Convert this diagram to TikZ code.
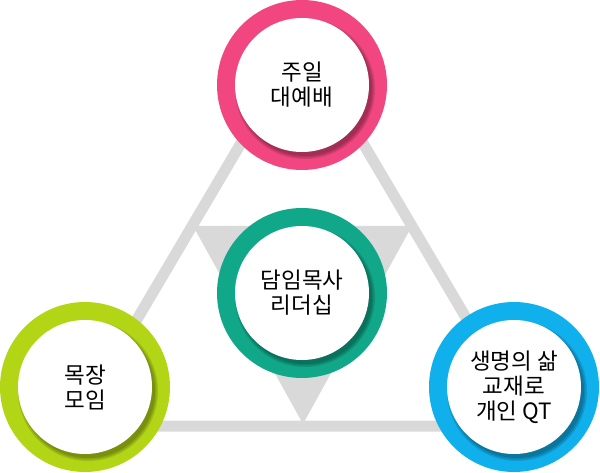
\documentclass[tikz,border=0pt]{standalone}
\usepackage{fontspec}
\setmainfont{Noto Sans CJK KR}
\usetikzlibrary{calc}
\usepackage{xcolor}
\definecolor{ringPink}{RGB}{241, 70, 127}
\definecolor{ringTeal}{RGB}{17, 168, 137}
\definecolor{ringLime}{RGB}{178, 214, 22}
\definecolor{ringBlue}{RGB}{16, 176, 236}
\definecolor{frameGray}{RGB}{217, 217, 217}

\begin{document}
\begin{tikzpicture}[x=1pt, y=-1pt,
  ring/.style={circle, fill=#1, minimum size=170pt, inner sep=0pt},
  disc/.style={circle, fill=white, minimum size=134pt, inner sep=0pt, align=center,
    font=\fontsize{22.5}{25}\selectfont},
  ]
  \useasboundingbox (0,0) rectangle (600,473);

  % frame triangle
  \coordinate (apex) at (302,40);
  \coordinate (bl) at (74,426);
  \coordinate (br) at (530,426);
  \coordinate (il) at (193,226);
  \coordinate (ir) at (412,226);
  \coordinate (ib) at (303,424);
  \fill[frameGray] (il) -- (ir) -- (ib) -- cycle;
  \draw[frameGray, line width=11pt] (apex) -- (bl) -- (br) -- cycle;

  % rings
  \node[ring=ringPink] (top) at (302,85) {};
  \node[ring=ringTeal] (mid) at (302,293) {};
  \node[ring=ringLime] (lft) at (85,387) {};
  \node[ring=ringBlue] (rgt) at (514,387) {};

  % shadows
  \foreach \n in {top, mid, lft, rgt}
    \foreach \r in {67, 68.5, 70}
      \fill[black, opacity=0.12] ($(\n.center)+(3,4)$) circle (\r);

  % white discs
  \node[disc] (topText) at (top) {주일\\대예배};
  \node[disc] (midText) at (mid) {담임목사\\리더십};
  \node[disc] (lftText) at (lft) {목장\\모임};
  \node[disc] (rgtText) at (rgt) {생명의 삶\\교재로\\개인 QT};
\end{tikzpicture}
\end{document}
